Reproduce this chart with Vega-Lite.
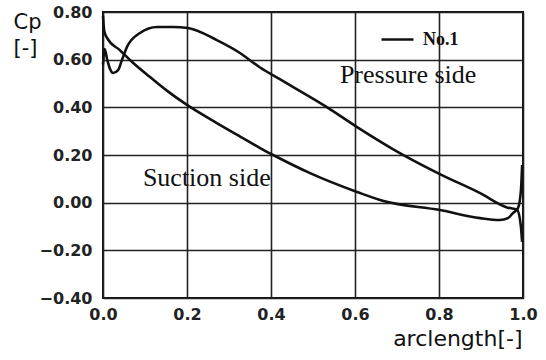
{
  "$schema": "https://vega.github.io/schema/vega-lite/v6.json",
  "width": 420,
  "height": 286,
  "autosize": {"type": "none"},
  "padding": {"left": 103, "top": 12, "right": 23, "bottom": 62},
  "background": "white",
  "config": {
    "view": {"stroke": "#111", "strokeWidth": 2},
    "axis": {
      "labelFont": "DejaVu Sans",
      "labelFontSize": 16,
      "labelFontWeight": "bold",
      "labelColor": "#222",
      "ticks": false,
      "domain": false,
      "gridColor": "#222",
      "gridWidth": 1.6,
      "gridOpacity": 1,
      "titleFont": "DejaVu Sans",
      "titleFontWeight": "normal",
      "titleColor": "#111"
    }
  },
  "layer": [
    {
      "data": {
        "values": [
          {"side": "Suction", "case": "No.1", "s": 0.0, "cp": 0.785},
          {"side": "Suction", "case": "No.1", "s": 0.003, "cp": 0.72},
          {"side": "Suction", "case": "No.1", "s": 0.01, "cp": 0.69},
          {"side": "Suction", "case": "No.1", "s": 0.04, "cp": 0.64},
          {"side": "Suction", "case": "No.1", "s": 0.072, "cp": 0.586},
          {"side": "Suction", "case": "No.1", "s": 0.112, "cp": 0.527},
          {"side": "Suction", "case": "No.1", "s": 0.152, "cp": 0.47},
          {"side": "Suction", "case": "No.1", "s": 0.2, "cp": 0.41},
          {"side": "Suction", "case": "No.1", "s": 0.271, "cp": 0.334},
          {"side": "Suction", "case": "No.1", "s": 0.333, "cp": 0.271},
          {"side": "Suction", "case": "No.1", "s": 0.374, "cp": 0.229},
          {"side": "Suction", "case": "No.1", "s": 0.405, "cp": 0.2},
          {"side": "Suction", "case": "No.1", "s": 0.493, "cp": 0.124},
          {"side": "Suction", "case": "No.1", "s": 0.605, "cp": 0.045},
          {"side": "Suction", "case": "No.1", "s": 0.668, "cp": 0.007},
          {"side": "Suction", "case": "No.1", "s": 0.802, "cp": -0.031},
          {"side": "Suction", "case": "No.1", "s": 0.898, "cp": -0.065},
          {"side": "Suction", "case": "No.1", "s": 0.945, "cp": -0.073},
          {"side": "Suction", "case": "No.1", "s": 0.964, "cp": -0.065},
          {"side": "Suction", "case": "No.1", "s": 0.976, "cp": -0.044},
          {"side": "Suction", "case": "No.1", "s": 0.988, "cp": -0.023},
          {"side": "Suction", "case": "No.1", "s": 0.995, "cp": 0.05},
          {"side": "Suction", "case": "No.1", "s": 0.998, "cp": 0.158},
          {"side": "Pressure", "case": "No.1", "s": 0.0, "cp": 0.58},
          {"side": "Pressure", "case": "No.1", "s": 0.004, "cp": 0.645},
          {"side": "Pressure", "case": "No.1", "s": 0.01, "cp": 0.6},
          {"side": "Pressure", "case": "No.1", "s": 0.017, "cp": 0.56},
          {"side": "Pressure", "case": "No.1", "s": 0.024, "cp": 0.544},
          {"side": "Pressure", "case": "No.1", "s": 0.036, "cp": 0.556},
          {"side": "Pressure", "case": "No.1", "s": 0.045, "cp": 0.598},
          {"side": "Pressure", "case": "No.1", "s": 0.057, "cp": 0.653},
          {"side": "Pressure", "case": "No.1", "s": 0.088, "cp": 0.712},
          {"side": "Pressure", "case": "No.1", "s": 0.129, "cp": 0.737},
          {"side": "Pressure", "case": "No.1", "s": 0.167, "cp": 0.737},
          {"side": "Pressure", "case": "No.1", "s": 0.202, "cp": 0.733},
          {"side": "Pressure", "case": "No.1", "s": 0.271, "cp": 0.682},
          {"side": "Pressure", "case": "No.1", "s": 0.326, "cp": 0.628},
          {"side": "Pressure", "case": "No.1", "s": 0.374, "cp": 0.567},
          {"side": "Pressure", "case": "No.1", "s": 0.421, "cp": 0.518},
          {"side": "Pressure", "case": "No.1", "s": 0.452, "cp": 0.486},
          {"side": "Pressure", "case": "No.1", "s": 0.533, "cp": 0.401},
          {"side": "Pressure", "case": "No.1", "s": 0.605, "cp": 0.317},
          {"side": "Pressure", "case": "No.1", "s": 0.69, "cp": 0.225},
          {"side": "Pressure", "case": "No.1", "s": 0.802, "cp": 0.12},
          {"side": "Pressure", "case": "No.1", "s": 0.898, "cp": 0.04},
          {"side": "Pressure", "case": "No.1", "s": 0.962, "cp": -0.02},
          {"side": "Pressure", "case": "No.1", "s": 0.986, "cp": -0.03},
          {"side": "Pressure", "case": "No.1", "s": 0.995, "cp": -0.1},
          {"side": "Pressure", "case": "No.1", "s": 0.998, "cp": -0.165}
        ]
      },
      "mark": {"type": "line", "strokeWidth": 2.6, "interpolate": "monotone", "strokeJoin": "round"},
      "encoding": {
        "x": {
          "field": "s", "type": "quantitative",
          "scale": {"domain": [0, 1], "nice": false, "zero": false},
          "axis": {
            "values": [0, 0.2, 0.4, 0.6, 0.8, 1.0],
            "format": ".1f",
            "labelPadding": 8,
            "labelFlush": false,
            "title": "arclength[-]",
            "titleFontSize": 22,
            "titleX": 419,
            "titleY": 47,
            "titleAlign": "right",
            "titleAnchor": null,
            "titleBaseline": "alphabetic"
          }
        },
        "y": {
          "field": "cp", "type": "quantitative",
          "scale": {"domain": [-0.4, 0.8], "nice": false, "zero": false},
          "axis": {
            "values": [-0.4, -0.2, 0, 0.2, 0.4, 0.6, 0.8],
            "format": ".2f",
            "labelPadding": 11,
            "labelFlush": false,
            "title": ["Cp", "[-]"],
            "titleFontSize": 21,
            "titleAngle": 0,
            "titleAlign": "left",
            "titleBaseline": "alphabetic",
            "titleLineHeight": 26,
            "titleX": -90,
            "titleY": 16,
            "titleAnchor": null
          }
        },
        "detail": {"field": "side", "type": "nominal"},
        "color": {
          "field": "case", "type": "nominal",
          "scale": {"range": ["#111111"]},
          "legend": {
            "title": null,
            "orient": "none",
            "legendX": 277,
            "legendY": 10,
            "padding": 0,
            "symbolType": "stroke",
            "symbolSize": 1024,
            "symbolStrokeWidth": 2.6,
            "labelFont": "Liberation Serif",
            "labelFontWeight": "bold",
            "labelFontSize": 18,
            "labelColor": "#111",
            "labelOffset": 8
          }
        }
      }
    },
    {
      "data": {
        "values": [
          {"label": "Pressure side", "s": 0.564, "cp": 0.502},
          {"label": "Suction side", "s": 0.095, "cp": 0.069}
        ]
      },
      "mark": {"type": "text", "font": "Liberation Serif", "fontSize": 26, "align": "left", "baseline": "alphabetic", "color": "#111"},
      "encoding": {
        "x": {"field": "s", "type": "quantitative"},
        "y": {"field": "cp", "type": "quantitative"},
        "text": {"field": "label", "type": "nominal"}
      }
    }
  ]
}
